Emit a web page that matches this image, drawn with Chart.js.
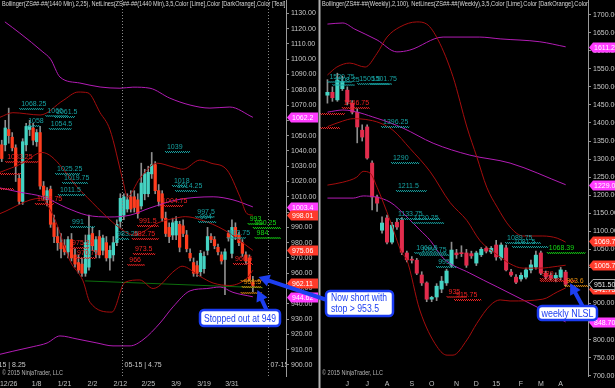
<!DOCTYPE html>
<html>
<head>
<meta charset="utf-8">
<script src="https://cdn.jsdelivr.net/npm/chart.js@4.4.1/dist/chart.umd.min.js"></script>
<style>
  html, body { margin: 0; padding: 0; background: #000; }
  body { width: 615px; height: 388px; position: relative; overflow: hidden; }
  canvas { position: absolute; top: 0; }
  #daily { left: 0; }
  #weekly { left: 318px; background: #000; }
  #notes { left: 0; pointer-events: none; }
</style>
</head>
<body>
<canvas id="daily" width="318" height="388"></canvas>
<canvas id="weekly" width="297" height="388"></canvas>
<canvas id="notes" width="615" height="388"></canvas>
<script>
// ---- daily panel (1440 min) ----
const dailyDates = ['12/23', '12/24', '12/26', '12/29', '12/30', '12/31', '1/2', '1/5', '1/6', '1/7', '1/8', '1/9', '1/12', '1/13', '1/14', '1/15', '1/16', '1/20', '1/21', '1/22', '1/23', '1/26', '1/27', '1/28', '1/29', '1/30', '2/2', '2/3', '2/4', '2/5', '2/6', '2/9', '2/10', '2/11', '2/12', '2/13', '2/17', '2/18', '2/19', '2/20', '2/23', '2/24', '2/25', '2/26', '2/27', '3/2', '3/3', '3/4', '3/5', '3/6', '3/9', '3/10', '3/11', '3/12', '3/13', '3/16', '3/17', '3/18', '3/19', '3/20', '3/23', '3/24', '3/25', '3/26', '3/27', '3/30', '3/31', '4/1', '4/2', '4/6', '4/7', '4/8', '4/9']
const dailyOpen = [1044, 1044, 1054, 1049, 1042, 1022, 1007, 1044, 1054, 1055, 1046, 1052, 1017, 1008, 1015, 993, 984, 980, 978, 974, 982, 972, 967, 966, 960, 964, 986, 974, 984, 975, 980, 970, 972, 980, 994, 998, 1002, 1010, 1010, 1008, 1004, 1012, 1012, 1025, 1031, 1014, 1012, 996, 990, 985, 985, 992, 991, 985, 973, 967, 965, 961, 963, 975, 984, 982, 977, 972, 969, 986, 973, 990, 985, 980, 972, 970, 954]
const dailyHigh = [1047, 1060, 1068, 1052, 1044, 1025, 1048, 1058, 1060, 1058, 1054, 1056, 1020, 1016, 1017, 998, 990, 986, 982, 984, 986, 976, 972, 970, 985, 998, 990, 984, 988, 985, 984, 978, 984, 995, 1012, 1012, 1012, 1014, 1014, 1012, 1032, 1028, 1030, 1039, 1033, 1018, 1014, 1000, 993, 996, 997, 994, 995, 988, 976, 970, 968, 975, 974, 990, 986, 984, 979, 974, 976, 988, 995, 993, 987, 982, 974, 972, 958]
const dailyLow = [1033, 1040, 1045, 1040, 1020, 1005, 1005, 1040, 1050, 1044, 1043, 1015, 1008, 1004, 990, 980, 975, 970, 972, 970, 968, 964, 960, 958, 958, 962, 975, 970, 970, 972, 968, 962, 968, 978, 990, 995, 1000, 1000, 1000, 996, 1002, 1008, 1010, 1022, 1012, 1004, 994, 984, 980, 982, 982, 974, 984, 974, 968, 958, 958, 958, 960, 972, 980, 976, 972, 966, 946, 981, 970, 982, 978, 971, 966, 955, 948]
const dailyClose = [1035, 1055, 1050, 1042, 1030, 1007, 1046, 1056, 1056, 1047, 1052, 1017, 1011, 1014, 992, 984, 980, 976, 974, 982, 970, 966, 962, 960, 980, 985, 978, 982, 972, 983, 970, 975, 980, 992, 1009, 1010, 1008, 1002, 1003, 999, 1019, 1025, 1026, 1031, 1014, 1007, 996, 986, 984, 993, 994, 977, 986, 976, 970, 960, 960, 973, 971, 984, 982, 978, 974, 968, 974, 983, 990, 984, 980, 973, 968, 956, 952]
const dailyTickDates = ['12/26', '1/8', '1/21', '2/2', '2/12', '2/25', '3/9', '3/19', '3/31']
const dailyYTicks = [900, 910, 920, 930, 940, 950, 960, 970, 980, 990, 1000, 1010, 1020, 1030, 1040, 1050, 1060, 1070, 1080, 1090, 1100, 1110, 1120, 1130]

// bands as [bar index, price]
const dailyBandUpper = [[-0.5, 1062], [3.2, 1065], [11, 1063.5], [17.6, 1073], [21.9, 1078.5], [24.7, 1078], [28.2, 1065], [31, 1054], [34.8, 1020], [36, 1010], [39.6, 1022], [44.5, 1032], [49.1, 1029.5], [52, 1028], [56.8, 1034], [60, 1032], [64.6, 1027.5], [68.3, 1010], [70.3, 999], [72, 998]]
const dailyBandMid = [[-0.5, 1026], [6, 1032], [11.5, 1039], [23, 1013], [34.8, 988], [38, 985], [44.8, 993], [49.7, 996], [52.6, 997], [57, 995], [64, 988], [72, 975]]
const dailyBandLower = [[-0.5, 999], [11, 1009], [14.7, 998], [19.6, 968], [23.3, 955], [25.3, 941], [31.6, 934.6], [35.3, 954], [39.6, 955.6], [43.4, 950], [49.7, 962], [51.7, 964.6], [56.8, 958], [60.6, 953.6], [65.4, 952], [70.6, 957.5], [72, 962]]
const dailyMagUpper = [[0.9, 1124.4], [5.2, 1117], [11.8, 1104.7], [14, 1100], [16.7, 1088.3], [22.4, 1084.4], [28.2, 1081.8], [33.9, 1081], [37.6, 1081.7], [42.5, 1081], [48.2, 1074.5], [54, 1070], [59.7, 1068], [65.4, 1068.7], [72, 1062]]
const dailyMagMid = [[-0.5, 1015.8], [5.2, 1013], [11.8, 1010], [18.7, 1002.7], [24.4, 998], [31, 996.8], [36.8, 998], [42.5, 1002.7], [50.2, 1008], [60.6, 1010], [66.3, 1008], [72, 1003.4]]
const dailyMagLower = [[-0.5, 907], [3.2, 909], [9, 912], [13, 914.4], [16.7, 919], [21.6, 917], [27.3, 914.4], [31.9, 912.5], [36.8, 912.5], [40.5, 916.5], [45.4, 927.5], [49.1, 938], [54, 948.5], [58.8, 950], [62.6, 951], [66.3, 947.5], [72, 944.6]]
const dailyTrend = [[23.9, 955], [74.9, 950.5]]

// ---- weekly panel ----
const weeklyDates = ['5/5', '5/12', '5/19', '5/26', '6/2', '6/9', '6/16', '6/23', '6/30', '7/7', '7/14', '7/21', '7/28', '8/4', '8/11', '8/18', '8/25', '9/1', '9/8', '9/15', '9/22', '9/29', '10/6', '10/13', '10/20', '10/27', '11/3', '11/10', '11/17', '11/24', '12/1', '12/8', '12/15', '12/22', '12/29', '1/5', '1/12', '1/19', '1/26', '2/2', '2/9', '2/16', '2/23', '3/2', '3/9', '3/16', '3/23', '3/30', '4/6']
const weeklyOpen = [1477, 1485, 1464, 1495, 1491, 1455, 1430, 1380, 1389, 1289, 1195, 1103, 1137, 1070, 1125, 1131, 1040, 1022, 1020, 979, 957, 912, 918, 940, 957, 1006, 1040, 1040, 1040, 1038, 1012, 1035, 1053, 1043, 1062, 1026, 1054, 987, 973, 968, 973, 993, 1001, 1040, 984, 978, 970, 973, 987]
const weeklyHigh = [1520, 1500, 1538, 1530, 1500, 1462, 1440, 1395, 1395, 1295, 1200, 1140, 1145, 1125, 1135, 1138, 1045, 1030, 1025, 988, 960, 920, 955, 975, 995, 1070, 1050, 1060, 1050, 1045, 1045, 1055, 1058, 1058, 1075, 1068, 1062, 995, 980, 985, 998, 1020, 1045, 1045, 990, 985, 985, 1000, 992]
const weeklyLow = [1455, 1460, 1460, 1490, 1450, 1425, 1345, 1350, 1300, 1159, 1155, 1095, 1065, 1065, 1105, 1035, 1015, 1012, 980, 950, 905, 905, 908, 930, 950, 1000, 1025, 1030, 1000, 1025, 1005, 1030, 1040, 1038, 1020, 1020, 990, 975, 955, 962, 968, 985, 995, 980, 968, 965, 960, 965, 948]
const weeklyClose = [1485, 1470, 1519, 1515, 1458, 1430, 1389, 1361, 1303, 1195, 1178, 1123, 1070, 1117, 1112, 1042, 1021, 1020, 984, 957, 912, 917, 948, 962, 990, 1048, 1035, 1038, 1006, 1032, 1040, 1050, 1045, 1053, 1029, 1062, 993, 979, 959, 978, 993, 1007, 1034, 984, 973, 970, 978, 993, 953]
const weeklyTickWeeks = ['6/2', '6/30', '7/28', '9/1', '9/29', '11/3', '12/1', '12/29', '2/2', '3/2', '3/30']
const weeklyTickText = ['J', 'J', 'A', 'S', 'O', 'N', 'D', '15', 'F', 'M', 'A']
const weeklyYTicks = [700, 750, 800, 850, 900, 950, 1000, 1050, 1100, 1150, 1200, 1250, 1300, 1350, 1400, 1450, 1500, 1550, 1600, 1650, 1700]

const weeklyBandUpper = [[0, 1533], [1.9, 1555], [4.5, 1566], [7.6, 1555], [10, 1593], [12, 1638], [14.6, 1666], [18, 1680], [20, 1674], [22.3, 1630], [25.3, 1528], [28.1, 1389], [30.1, 1306], [32.1, 1222], [34.2, 1167], [36.8, 1112], [39.4, 1087], [43.4, 1087], [46.3, 1081], [48, 1070]]
const weeklyBandMid = [[0, 1390], [3, 1405], [5.2, 1412], [7.6, 1410], [10.6, 1400], [13.2, 1380], [16.6, 1330], [20.7, 1265], [24.7, 1180], [28.1, 1130], [30.7, 1075], [34.2, 1035], [36.8, 1010], [39.4, 998], [42.8, 998], [46.3, 1003], [48, 1006]]
const weeklyBandLower = [[0, 1228], [3.1, 1236], [5.9, 1250], [7.2, 1266], [8.6, 1261], [10, 1222], [12.6, 1131], [15, 1040], [16, 1021], [18.6, 882], [22.1, 780], [24.1, 757], [25.3, 757], [28.1, 799], [30.1, 845], [32.8, 895], [34.8, 910], [36.8, 907], [43.4, 912], [46.3, 932], [48, 943]]
const weeklyMagUpper = [[0, 1674], [3.1, 1677], [5.5, 1660], [10, 1630], [14, 1597], [16.6, 1602], [23.3, 1638], [30.7, 1638], [34.8, 1633], [42.8, 1625], [48, 1611]]
const weeklyMagMid = [[0, 1430], [3.1, 1436], [10, 1413], [15.2, 1386], [21.3, 1344], [28.7, 1311], [36.8, 1289], [48, 1229]]
const weeklyMagLower = [[0, 1192], [5.2, 1192], [7.2, 1198], [12.6, 1181], [16, 1140], [18.6, 1104], [20.7, 1075], [23.3, 1026], [28.7, 984], [34.2, 946], [39.4, 910], [43.4, 882], [48, 849]]

// colours
const UP = '#45d3c3'
const DOWN_DAILY = '#ff3d1f'
const DOWN_WEEKLY = '#e22c4c'
const DARKRED = '#a50d0d'
const MAGENTA = '#b21cb4'
const TEAL = '#17a3a3'
const RED = '#ee2222'
const GREEN = '#14d814'
const ORANGE = '#e8900f'
const PINK = '#ff3cff'
const TAGRED = '#ff3b2b'
const FONT = "'Liberation Sans', Arial, sans-serif"

// net lines: text, from index, to index, price, colour
const dailyNets = [
  ['1068.25', 5, 12, 1068.25, TEAL], ['1058', 7, 11, 1057, TEAL], ['1066', 12.5, 19, 1063.5, TEAL],
  ['1061.5', 15, 21, 1063, TEAL], ['1054.5', 13.5, 20, 1055, TEAL], ['1033.25', 1, 10.5, 1033.25, RED],
  ['', -0.5, 5.5, 1025.5, RED], ['', -0.5, 3.5, 1016, RED], ['1008.75', 9.5, 15, 1006, RED],
  ['1025.25', 15.3, 22.4, 1025.25, TEAL], ['1019.75', 17.3, 24.7, 1019.75, TEAL], ['1011.5', 16.1, 23.9, 1011.5, TEAL],
  ['991', 19.6, 26.7, 991, TEAL], ['975.25', 19.6, 25, 977, RED], ['970.75', 21, 27, 970.75, RED],
  ['983.25', 32.5, 36.5, 983.25, TEAL], ['991.5', 38.8, 45, 991.5, RED], ['982.75', 37.3, 45, 982.75, RED],
  ['973.5', 37.6, 44, 973.5, RED], ['966', 36, 41, 966, RED], ['1039', 46.8, 54, 1040, TEAL],
  ['1018', 48.8, 53, 1018, TEAL], ['1014.25', 49.7, 56, 1014.25, TEAL], ['1004.75', 45.4, 52, 1004.75, RED],
  ['997.5', 55.5, 61, 997.5, TEAL], ['994', 56.3, 61.5, 994, TEAL], ['983.75', 64.5, 70, 983.75, TEAL],
  ['966.5', 66.3, 72, 966.5, RED], ['993', 70.5, 75, 993, GREEN], ['990.25', 72, 80, 990.25, GREEN],
  ['984', 72.5, 80, 984, GREEN], ['', 68.5, 74.5, 955.5, ORANGE], ['951.5', 68.8, 74.5, 951.5, ORANGE],
  ['', 68.5, 74.5, 948, ORANGE],
]
const weeklyNets = [
  ['1520.75', 0, 5, 1516, TEAL], ['1508.25', 1, 5.5, 1509, TEAL], ['1505.5', 6, 12.5, 1512, TEAL],
  ['1501.75', 8.5, 13, 1510, TEAL], ['1446.75', 2.9, 8.5, 1444, RED], ['', -1.5, 3.5, 1428, RED],
  ['', -1.5, 2.5, 1388, RED], ['1396.25', 10.8, 16.5, 1393, TEAL], ['1290', 12.8, 18.5, 1292, TEAL],
  ['1211.5', 13.8, 20, 1214, TEAL], ['1133.75', 13.8, 22.7, 1137, TEAL], ['1120.25', 17, 23.5, 1126, TEAL],
  ['1060.5', 17.5, 24, 1043, TEAL], ['1050.75', 18.5, 24.5, 1037, TEAL], ['995', 21.9, 26, 1003, TEAL],
  ['935', 24, 28, 921, RED], ['915.75', 25.5, 31, 913, RED], ['1089.75', 35.8, 43, 1071, TEAL],
  ['1081.5', 37.2, 44.5, 1060, TEAL], ['1068.39', 44.2, 52, 1042, GREEN], ['989', 42.8, 47, 970, RED],
  ['', 42.8, 50, 965, RED], ['963.6', 47.7, 53, 951, ORANGE],
]
// price tags on the axis: text, position price, fill, border
const dailyTags = [['1062.2', 1062.2, PINK], ['1003.4', 1003.4, PINK], ['998.01', 998.01, TAGRED], ['975.06', 975.06, TAGRED], ['962.11', 953.5, TAGRED], ['944.62', 944.62, PINK]]
const weeklyTags = [['1611.22', 1611.22, PINK], ['1229.09', 1229.09, PINK], ['1069.71', 1073, TAGRED], ['1005.73', 1005.73, TAGRED], ['941.75', 940, TAGRED], ['951.50', 953, '#000', '#aaa'], ['848.70', 848.7, PINK]]
// contract rollovers: bar index, text
const dailyRolls = [[-4.6, '03-15 | 8.25'], [34.5, '05-15 | 4.75'], [76.3, '07-15 | 2.5']]

Chart.defaults.font.family = FONT

function candleSets(open, high, low, close, downColor, bodyWidth) {
  return [
    { type: 'bar', data: high.map((h, i) => ({ x: i, y: [low[i], h] })), backgroundColor: '#8e8e8e', barThickness: 1, grouped: false, order: 3 },
    { type: 'bar', data: open.map((o, i) => ({ x: i, y: [Math.min(o, close[i]), Math.max(o, close[i])] })),
      backgroundColor: open.map((o, i) => close[i] >= o ? UP : downColor), barThickness: bodyWidth, minBarLength: 1, grouped: false, order: 2 },
  ]
}

function band(points, color) {
  return { type: 'line', data: points.map(([x, y]) => ({ x, y })), borderColor: color, borderWidth: 1, pointRadius: 0, cubicInterpolationMode: 'monotone', order: 1 }
}

function fitText(ctx, text, x, y, width) {
  const w = ctx.measureText(text).width
  ctx.save()
  ctx.translate(x, y)
  ctx.scale(Math.min(1, width / w), 1)
  ctx.fillText(text, 0, 0)
  ctx.restore()
}

function decor(cfg) {
  return {
    id: 'decor',
    afterDatasetsDraw(chart) {
      const { ctx, chartArea: a, scales: { x, y } } = chart
      ctx.save()
      ctx.beginPath()
      ctx.rect(a.left, 0, a.right - a.left, a.bottom)
      ctx.clip()
      ctx.font = '7px ' + FONT

      // rollover lines
      ;(cfg.rolls || []).forEach(([i, text]) => {
        const px = Math.round(x.getPixelForValue(i)) + 0.5
        ctx.strokeStyle = '#8a8a8a'
        ctx.setLineDash([1, 2])
        ctx.lineWidth = 1
        ctx.beginPath(); ctx.moveTo(px, a.top); ctx.lineTo(px, a.bottom); ctx.stroke()
        ctx.fillStyle = '#c8c8c8'
        ctx.textBaseline = 'middle'
        ctx.fillText(text, px + 2, a.bottom - 11)
      })

      // net lines
      cfg.nets.forEach(([text, i0, i1, v, col]) => {
        const x0 = x.getPixelForValue(i0), x1 = x.getPixelForValue(i1)
        const py = Math.round(y.getPixelForValue(v)) + 0.5
        ctx.strokeStyle = col
        ctx.setLineDash([1, 1])
        ctx.lineWidth = 1
        ctx.beginPath(); ctx.moveTo(x0, py); ctx.lineTo(x1, py); ctx.stroke()
        ctx.beginPath(); ctx.moveTo(x0 + 1, py + 1); ctx.lineTo(x1, py + 1); ctx.stroke()
        ctx.fillStyle = col
        ctx.textBaseline = 'bottom'
        ctx.fillText(text, x0 + 2, py - 0.5)
      })
      ctx.setLineDash([])

      // header and footer
      ctx.fillStyle = '#d8d8d8'
      ctx.textBaseline = 'middle'
      fitText(ctx, cfg.header, a.left + 2, 4.5, cfg.headerWidth)
      ctx.fillStyle = '#b4b4b4'
      fitText(ctx, '\u00a9 2015 NinjaTrader, LLC', a.left + 2, a.bottom - 3, 61)
      ctx.restore()

      if (cfg.leftRule) {
        ctx.fillStyle = '#b0b0b0'
        ctx.fillRect(a.left - 1.5, 0, 2, a.bottom + 12)
      }
    },
    afterDraw(chart) {
      const { ctx, chartArea: a, scales: { y } } = chart
      const x0 = a.right + 1, w = cfg.axisW - 1
      ctx.save()
      ctx.font = '7px ' + FONT
      ctx.textBaseline = 'middle'
      cfg.tags.forEach(([text, v, fill, stroke]) => {
        const py = Math.round(y.getPixelForValue(v)) + 0.5
        ctx.beginPath()
        ctx.moveTo(x0, py)
        ctx.lineTo(x0 + 4, py - 5)
        ctx.lineTo(x0 + w, py - 5)
        ctx.lineTo(x0 + w, py + 5)
        ctx.lineTo(x0 + 4, py + 5)
        ctx.closePath()
        ctx.fillStyle = fill
        ctx.fill()
        if (stroke) { ctx.strokeStyle = stroke; ctx.lineWidth = 1; ctx.stroke() }
        ctx.fillStyle = stroke ? '#e8e8e8' : '#ffffff'
        ctx.fillText(text, x0 + 5, py + 0.5)
      })
      ctx.restore()
    },
  }
}

function makeChart(id, cfg) {
  return new Chart(document.getElementById(id), {
    type: 'bar',
    data: { datasets: cfg.datasets },
    options: {
      responsive: false,
      animation: false,
      events: [],
      layout: { padding: { left: cfg.padLeft, right: 0, top: 0, bottom: 0 }, autoPadding: false },
      plugins: { legend: { display: false }, tooltip: { enabled: false } },
      scales: {
        x: {
          type: 'linear', min: cfg.xMin, max: cfg.xMax, offset: false,
          grid: { display: false, drawTicks: false },
          border: { display: false },
          afterBuildTicks: (s) => { s.ticks = cfg.xTicks.map((t) => ({ value: t[0] })) },
          afterFit: (s) => { s.height = 12; s.paddingLeft = 0; s.paddingRight = 0 },
          ticks: {
            autoSkip: false, maxRotation: 0, padding: 4, color: '#c0c0c0', font: { size: 7 },
            callback: (v) => (cfg.xTicks.find((t) => t[0] === v) || [0, ''])[1],
          },
        },
        y: {
          position: 'right', min: cfg.yMin, max: cfg.yMax,
          afterBuildTicks: (s) => { s.ticks = cfg.yTicks.map((v) => ({ value: v })) },
          afterFit: (s) => { s.width = cfg.axisW; s.paddingTop = 0; s.paddingBottom = 0 },
          grid: { drawOnChartArea: false, tickLength: 3, color: '#909090' },
          border: { color: '#9a9a9a' },
          ticks: { autoSkip: false, padding: 2, color: '#c8c8c8', font: { size: 7 }, callback: (v) => v.toFixed(2) },
        },
      },
    },
    plugins: [decor(cfg)],
  })
}

const dailyChart = makeChart('daily', {
  datasets: [
    ...candleSets(dailyOpen, dailyHigh, dailyLow, dailyClose, DOWN_DAILY, 2.6),
    band(dailyBandUpper, DARKRED), band(dailyBandMid, DARKRED), band(dailyBandLower, DARKRED),
    band(dailyMagUpper, MAGENTA), band(dailyMagMid, MAGENTA), band(dailyMagLower, MAGENTA),
    { ...band(dailyTrend, '#0d6e0d'), cubicInterpolationMode: 'default', tension: 0 },
  ],
  padLeft: 0, axisW: 32, xMin: -0.5, xMax: 81.5, yMin: 892.8, yMax: 1138.7,
  xTicks: dailyTickDates.map((d) => [dailyDates.indexOf(d), d]),
  yTicks: dailyYTicks,
  nets: dailyNets, tags: dailyTags, rolls: dailyRolls,
  header: 'Bollinger(ZS##-##(1440 Min),2,25), NetLines(ZS##-##(1440 Min),3,5,Color [Lime],Color [DarkOrange],Color [Teal],C',
  headerWidth: 289,
})

const weeklyChart = makeChart('weekly', {
  datasets: [
    ...candleSets(weeklyOpen, weeklyHigh, weeklyLow, weeklyClose, DOWN_WEEKLY, 3.4),
    band(weeklyBandUpper, DARKRED), band(weeklyBandMid, DARKRED), band(weeklyBandLower, DARKRED),
    band(weeklyMagUpper, MAGENTA), band(weeklyMagMid, MAGENTA), band(weeklyMagLower, MAGENTA),
  ],
  padLeft: 2, axisW: 27, xMin: -1.5, xMax: 52.5, yMin: 699.2, yMax: 1740.7,
  xTicks: weeklyTickWeeks.map((w, k) => [weeklyDates.indexOf(w), weeklyTickText[k]]),
  yTicks: weeklyYTicks,
  nets: weeklyNets, tags: weeklyTags, leftRule: true,
  header: 'Bollinger(ZS##-##(Weekly),2,100), NetLines(ZS##-##(Weekly),3,5,Color [Lime],Color [DarkOrange],Color',
  headerWidth: 266,
})

// callouts with arrows (box = x, y, w, h on the page; tip = chart, page offset, bar index, price)
const callouts = [
  { lines: ['Now short with', 'stop > 953.5'], widths: [56, 48], box: [326, 291, 67, 25], tail: [327, 300], tip: [dailyChart, 0, 73.6, 957.5] },
  { lines: ['Stopped out at 949'], widths: [72], box: [200, 310, 80, 16], tail: [267, 311], tip: [dailyChart, 0, 73.3, 949] },
  { lines: ['weekly NLSL'], widths: [52], box: [538, 306, 59, 14], tail: [583, 307], tip: [weeklyChart, 318, 48.9, 956] },
]

const notes = document.getElementById('notes').getContext('2d')

function arrow(ctx, x0, y0, x1, y1) {
  const a = Math.atan2(y1 - y0, x1 - x0)
  const len = 11, half = 6
  const bx = x1 - len * Math.cos(a), by = y1 - len * Math.sin(a)
  ctx.strokeStyle = '#1d3ff0'
  ctx.lineWidth = 4
  ctx.lineCap = 'round'
  ctx.beginPath(); ctx.moveTo(x0, y0); ctx.lineTo(bx, by); ctx.stroke()
  ctx.fillStyle = '#1d3ff0'
  ctx.beginPath()
  ctx.moveTo(x1, y1)
  ctx.lineTo(bx + half * Math.sin(a), by - half * Math.cos(a))
  ctx.lineTo(bx - half * Math.sin(a), by + half * Math.cos(a))
  ctx.closePath()
  ctx.fill()
}

callouts.forEach((c) => {
  const [chart, off, i, v] = c.tip
  arrow(notes, c.tail[0], c.tail[1], chart.scales.x.getPixelForValue(i) + off, chart.scales.y.getPixelForValue(v))
})

callouts.forEach((c) => {
  const [bx, by, bw, bh] = c.box
  notes.beginPath()
  notes.roundRect(bx, by, bw, bh, 4)
  notes.fillStyle = '#ffffff'
  notes.fill()
  notes.strokeStyle = '#1b3cf2'
  notes.lineWidth = 2.5
  notes.stroke()
  notes.fillStyle = '#1d3ef2'
  notes.font = '11px ' + FONT
  notes.textBaseline = 'middle'
  if (c.lines.length > 1) {
    c.lines.forEach((t, k) => fitText(notes, t, bx + 5, by + 7 + k * 11, c.widths[k]))
  } else {
    fitText(notes, c.lines[0], bx + (bw - c.widths[0]) / 2, by + bh / 2 + 0.5, c.widths[0])
  }
})
</script>
</body>
</html>
